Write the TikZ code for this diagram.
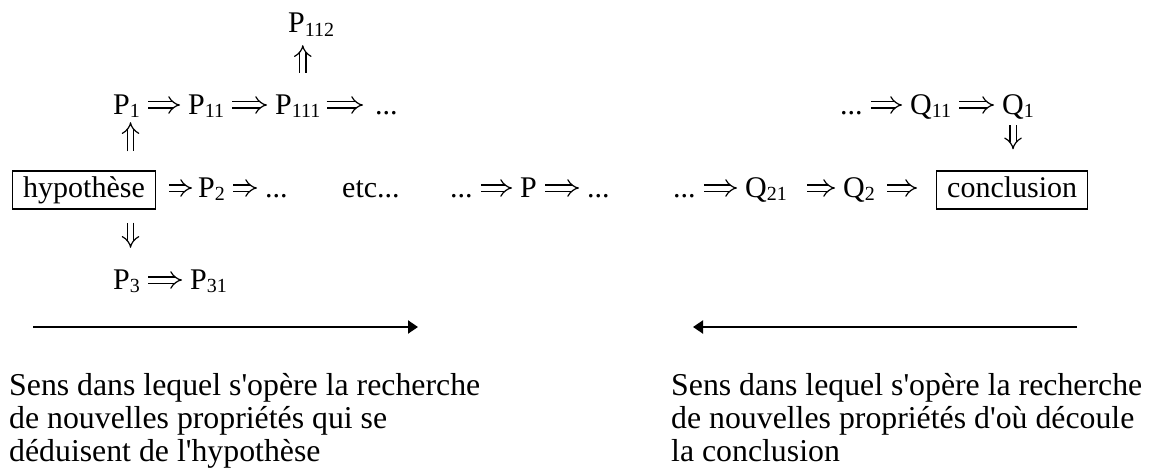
\documentclass[tikz,border=0pt]{standalone}
\usepackage{fontspec}
\setmainfont{Liberation Serif}
\usetikzlibrary{arrows.meta}
% lowered, smaller index after a letter
\newcommand\idx[1]{\raisebox{-3.3pt}{\fontsize{20}{20}\selectfont #1}}
\newcommand\ap{\textquotesingle}

\begin{document}
\begin{tikzpicture}[x=1pt,y=-1pt,
  txt/.style={inner sep=0pt, anchor=base west, text height=22pt, text depth=4pt,
              font=\fontsize{30}{30}\selectfont},
  boxed/.style={draw, line width=1.4pt, inner xsep=10.5pt, inner ysep=4pt,
              text height=22pt, text depth=8pt, anchor=base west,
              font=\fontsize{30}{30}\selectfont},
  note/.style={inner sep=0pt, anchor=north west, align=left,
              font=\fontsize{31.8}{33}\selectfont},
  imp/.style={double, double distance=5pt, line width=1.2pt, -{Implies},
              shorten <=8pt, shorten >=8pt},
  way/.style={line width=2pt, -{Triangle[length=10pt,width=13pt]}}]
\useasboundingbox (0,0) rectangle (1150,476);

% top branch
\node[txt] (p112) at (288,33) {P\idx{112}};
\node[txt] (p1)   at (113,114) {P\idx{1}};
\node[txt] (p11)  at (188,114) {P\idx{11}};
\node[txt] (p111) at (275,114) {P\idx{111}};
\node[txt] (d1)   at (375,114) {...};
\node[txt] (d6)   at (840,114) {...};
\node[txt] (q11)  at (910,114) {Q\idx{11}};
\node[txt] (q1)   at (1002,114) {Q\idx{1}};

% main line
\node[boxed] (hyp) at (12,197) {hypothèse};
\node[txt] (p2)  at (198,197) {P\idx{2}};
\node[txt] (d2)  at (265,197) {...};
\node[txt] (etc) at (342,197) {etc...};
\node[txt] (d3)  at (450,197) {...};
\node[txt] (pp)  at (520,197) {P};
\node[txt] (d4)  at (587,197) {...};
\node[txt] (d5)  at (673,197) {...};
\node[txt] (q21) at (745,197) {Q\idx{21}};
\node[txt] (q2)  at (843,197) {Q\idx{2}};
\node[boxed] (concl) at (936,197) {conclusion};

% lower branch
\node[txt] (p3)  at (113,289) {P\idx{3}};
\node[txt] (p31) at (190,289) {P\idx{31}};

% horizontal implications
\draw[imp] (p1) -- (p11);
\draw[imp] (p11) -- (p111);
\draw[imp, shorten <=6pt, shorten >=12pt] (p111) -- (d1);
\draw[imp] (d6) -- (q11);
\draw[imp] (q11) -- (q1);
\draw[imp, shorten <=13pt, shorten >=6pt] (hyp.east |- p2.east) -- (p2);
\draw[imp] (p2) -- (d2);
\draw[imp] (d3) -- (pp);
\draw[imp] (pp) -- (d4);
\draw[imp] (d5) -- (q21);
\draw[imp, shorten <=20pt] (q21) -- (q2);
\draw[imp, shorten <=12pt, shorten >=19pt] (q2) -- (concl.west |- q2.east);
\draw[imp] (p3) -- (p31);

% vertical implications
\coordinate (u1) at ([xshift=4pt]p1.south);
\draw[imp, shorten <=19pt, shorten >=4pt] (hyp.north -| u1) -- (u1);
\coordinate (u2) at ([xshift=4pt]p3.north);
\draw[imp, shorten <=13pt, shorten >=19pt] (hyp.south -| u2) -- (u2);
\coordinate (u3) at ([xshift=5pt]p111.north);
\draw[imp, shorten <=19pt, shorten >=8pt] (u3) -- (p112.south -| u3);
\coordinate (u4) at ([xshift=-5pt]q1.south);
\draw[imp, shorten <=7pt, shorten >=21pt] (u4) -- (concl.north -| u4);

% search directions
\coordinate (la) at (33,327);
\coordinate (lb) at (418,327);
\coordinate (ra) at (1077,327);
\coordinate (rb) at (693,327);
\draw[way] (la) -- (lb);
\draw[way] (ra) -- (rb);

\node[note] (nl) at (9,373.3) {Sens dans lequel s\ap opère la recherche\\
  de nouvelles propriétés qui se\\ déduisent de l\ap hypothèse};
\node[note] (nr) at (671,373.3) {Sens dans lequel s\ap opère la recherche\\
  de nouvelles propriétés d\ap où découle\\ la conclusion};
\end{tikzpicture}
\end{document}
